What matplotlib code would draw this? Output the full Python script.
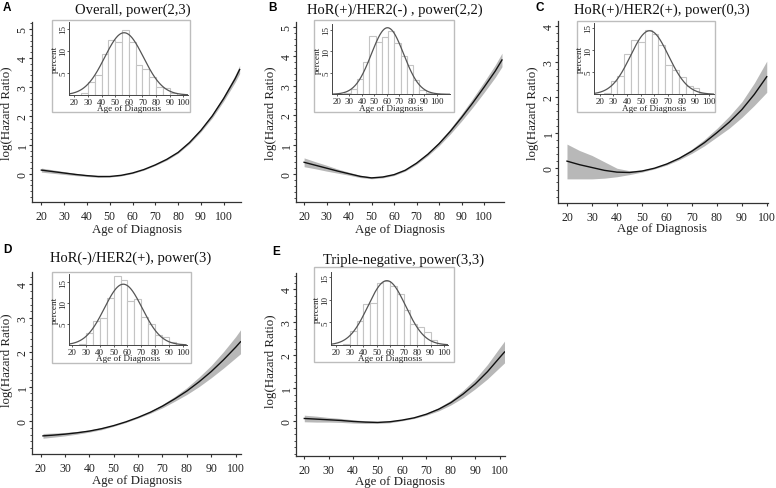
import matplotlib
matplotlib.use("Agg")
import matplotlib.pyplot as plt
import numpy as np
from matplotlib.patches import Rectangle
from matplotlib.ticker import MultipleLocator

plt.rcParams['font.family'] = ['Liberation Serif', 'DejaVu Serif']

W, H = 776, 489

# ---------------- data ----------------
titles = ["Overall, power(2,3)", "HoR(+)/HER2(-) , power(2,2)", "HoR(+)/HER2(+), power(0,3)",
          "HoR(-)/HER2(+), power(3)", "Triple-negative, power(3,3)"]
letters = ["A", "B", "C", "D", "E"]

ageA = [20, 25, 30, 35, 40, 45, 50, 55, 60, 65, 70, 75, 80, 85, 90, 95, 100, 105, 107]
fitA = [0.13, 0.08, 0.03, -0.02, -0.06, -0.09, -0.09, -0.05, 0.03, 0.15, 0.31, 0.50, 0.74, 1.08, 1.50, 2.00, 2.60, 3.28, 3.60]
hwA = [0.07, 0.06, 0.05, 0.04, 0.03, 0.03, 0.02, 0.02, 0.02, 0.02, 0.02, 0.03, 0.03, 0.04, 0.05, 0.07, 0.09, 0.12, 0.14]

ageB = [20, 25, 30, 35, 40, 45, 50, 55, 60, 65, 70, 75, 80, 85, 90, 95, 100, 105, 108]
fitB = [0.40, 0.30, 0.20, 0.10, 0.01, -0.08, -0.13, -0.10, -0.02, 0.13, 0.37, 0.67, 1.03, 1.45, 1.92, 2.42, 2.95, 3.50, 3.88]
hwB = [0.15, 0.12, 0.10, 0.07, 0.05, 0.04, 0.03, 0.03, 0.03, 0.03, 0.04, 0.05, 0.07, 0.09, 0.12, 0.15, 0.18, 0.21, 0.23]

ageC = [20, 25, 30, 35, 40, 45, 50, 55, 60, 65, 70, 75, 80, 85, 90, 95, 100]
fitC = [0.20, 0.10, 0.02, -0.06, -0.11, -0.12, -0.08, 0.00, 0.12, 0.28, 0.48, 0.72, 1.00, 1.30, 1.65, 2.08, 2.58]
upC = [0.68, 0.50, 0.36, 0.18, 0.00, -0.07, -0.05, 0.02, 0.15, 0.32, 0.54, 0.81, 1.12, 1.47, 1.87, 2.40, 3.02]
loC = [-0.30, -0.30, -0.30, -0.28, -0.24, -0.18, -0.11, -0.02, 0.09, 0.24, 0.42, 0.63, 0.88, 1.13, 1.43, 1.77, 2.14]

ageD = [21, 25, 30, 35, 40, 45, 50, 55, 60, 65, 70, 75, 80, 85, 90, 95, 100, 102]
fitD = [-0.44, -0.42, -0.39, -0.35, -0.30, -0.23, -0.14, -0.03, 0.10, 0.25, 0.43, 0.64, 0.87, 1.14, 1.44, 1.78, 2.15, 2.31]
hwD = [0.07, 0.06, 0.05, 0.04, 0.03, 0.03, 0.02, 0.02, 0.02, 0.03, 0.05, 0.07, 0.10, 0.14, 0.18, 0.24, 0.31, 0.35]

ageE = [20, 25, 30, 35, 40, 45, 50, 55, 60, 65, 70, 75, 80, 85, 90, 95, 100, 102]
fitE = [0.08, 0.06, 0.04, 0.02, -0.01, -0.03, -0.04, -0.02, 0.03, 0.10, 0.21, 0.36, 0.56, 0.82, 1.13, 1.50, 1.93, 2.10]
hwE = [0.10, 0.09, 0.07, 0.06, 0.05, 0.04, 0.03, 0.03, 0.02, 0.02, 0.03, 0.05, 0.07, 0.11, 0.15, 0.22, 0.30, 0.33]

# histograms (percent per bin)
binsA = [25, 30, 35, 40, 45, 50, 55, 60, 65, 70, 75, 80, 85, 90, 95]
pctA = [0.5, 3.0, 4.4, 9.2, 12.5, 12.0, 14.7, 11.9, 6.8, 5.9, 4.0, 1.7, 1.5, 0.4]
binsB = [26, 31, 36, 41, 46, 51, 56, 61, 66, 71, 76, 81, 86, 91, 96]
pctB = [0.3, 1.2, 3.6, 7.5, 13.6, 12.1, 13.4, 14.8, 11.9, 8.8, 6.9, 3.4, 0.9, 0.3]
binsC = [23, 28, 33, 38, 43, 48, 53, 58, 63, 68, 73, 78, 83, 88, 93, 98]
pctC = [0.3, 3.0, 4.2, 9.0, 12.2, 11.7, 14.5, 13.6, 11.1, 6.6, 5.4, 3.9, 1.8, 1.4, 0.3]
binsD = [25, 30, 35, 40, 45, 50, 55, 60, 65, 70, 75, 80, 85, 90, 95]
pctD = [0.3, 2.8, 5.8, 6.4, 11.2, 16.6, 15.5, 10.6, 11.0, 6.8, 5.0, 2.3, 1.8, 0.8]
binsE = [25, 30, 35, 40, 45, 50, 55, 60, 65, 70, 75, 80, 85, 90, 95]
pctE = [0.3, 3.0, 5.4, 9.0, 9.3, 13.8, 14.1, 13.0, 11.3, 7.8, 4.7, 4.0, 2.8, 1.1]
# normal overlay parameters (mean, sd of age)
normA = (56.5, 14.2)
normB = (60.5, 12.9)
normC = (56.5, 13.9)
normD = (57.0, 13.7)
normE = (57.5, 14.0)

# ---------------- layout (pixels) ----------------
def fbox(l, t, r, b):
    return [l / W, 1 - b / H, (r - l) / W, (b - t) / H]

panels = [
    dict(box=(32, 23, 241, 203), xlim=(15.9, 107.6), ylim=(-0.97, 5.24), yt=[0, 1, 2, 3, 4, 5],
         age=ageA, fit=fitA, hw=hwA, bins=binsA, pct=pctA, norm=normA,
         ibox=(52, 21, 190, 113), iax=(69, 23.3, 188.3, 96), ixl=(16.1, 103.6), iyl=(0, 16.4),
         title=(133, 10), letter=(3, 8), xl=(137, 230), yl=(7, 113)),
    dict(box=(296, 23, 504, 203), xlim=(16.4, 108.9), ylim=(-0.95, 5.17), yt=[0, 1, 2, 3, 4, 5],
         age=ageB, fit=fitB, hw=hwB, bins=binsB, pct=pctB, norm=normB,
         ibox=(314, 21, 454, 113), iax=(332, 24.7, 450, 95.3), ixl=(16, 110.6), iyl=(0, 16.4),
         title=(395, 10), letter=(268, 8), xl=(400, 230), yl=(271, 113)),
    dict(box=(558, 22, 768, 204), xlim=(16.4, 100.5), ylim=(-0.98, 4.15), yt=[0, 1, 2, 3, 4],
         age=ageC, fit=fitC, up=upC, lo=loC, bins=binsC, pct=pctC, norm=normC,
         ibox=(577, 22, 715, 113), iax=(594, 24, 714, 95.3), ixl=(15.9, 103.6), iyl=(0, 16.1),
         title=(662, 10), letter=(535, 8), xl=(662, 229), yl=(533, 113)),
    dict(box=(32, 273, 241, 455), xlim=(16.5, 102.2), ylim=(-0.97, 4.35), yt=[0, 1, 2, 3, 4],
         age=ageD, fit=fitD, hw=hwD, bins=binsD, pct=pctD, norm=normD,
         ibox=(52, 273, 191, 364), iax=(69, 275, 186.7, 346), ixl=(17.6, 103), iyl=(0, 17),
         title=(131, 258), letter=(3, 250), xl=(137, 481), yl=(7, 360)),
    dict(box=(296, 274, 505, 457), xlim=(16.6, 102.2), ylim=(-1.06, 4.5), yt=[0, 1, 2, 3, 4],
         age=ageE, fit=fitE, hw=hwE, bins=binsE, pct=pctE, norm=normE,
         ibox=(314, 268, 454, 363), iax=(331, 273.3, 448.3, 346), ixl=(16, 103.2), iyl=(0, 16.1),
         title=(404, 260), letter=(272, 252), xl=(400, 482), yl=(271, 361)),
]

fig = plt.figure(figsize=(W / 100, H / 100), dpi=100)
fig.patch.set_facecolor('white')

band_col = '#b8b8b8'
axis_col = '#333333'

for i, p in enumerate(panels):
    ax = fig.add_axes(fbox(*p['box']))
    age = np.array(p['age'])
    fit = np.array(p['fit'])
    if 'hw' in p:
        hw = np.array(p['hw'])
        lo, up = fit - hw, fit + hw
    else:
        lo, up = np.array(p['lo']), np.array(p['up'])
    ax.fill_between(age, lo, up, color=band_col, lw=0)
    ax.plot(age, fit, color='#111111', lw=1.0)
    ax.set_xlim(*p['xlim'])
    ax.set_ylim(*p['ylim'])
    for s in ['top', 'right']:
        ax.spines[s].set_visible(False)
    for s in ['left', 'bottom']:
        ax.spines[s].set_color(axis_col)
        ax.spines[s].set_linewidth(0.9)
    ax.set_xticks([20, 30, 40, 50, 60, 70, 80, 90, 100])
    ax.set_yticks(p['yt'])
    ax.yaxis.set_minor_locator(MultipleLocator(0.2))
    ax.tick_params(axis='both', which='major', length=2.5, width=0.8, color=axis_col,
                   labelsize=8.5, labelcolor='#222222')
    ax.tick_params(axis='x', pad=3.5)
    ax.tick_params(axis='y', which='minor', length=1.5, width=0.6, color=axis_col)
    ax.tick_params(axis='y', which='major', pad=4.2)
    for lab in ax.get_yticklabels():
        lab.set_rotation(90)
        lab.set_va('center')
        lab.set_ha('center')

    # texts
    fig.text(p['title'][0] / W, 1 - p['title'][1] / H, titles[i], ha='center', va='center',
             fontsize=10.5, color='#111111')
    fig.text(p['letter'][0] / W, 1 - p['letter'][1] / H, letters[i], ha='left', va='center',
             fontsize=8.5, fontweight='bold', family=['Liberation Sans', 'DejaVu Sans'])
    fig.text(p['xl'][0] / W, 1 - p['xl'][1] / H, 'Age of Diagnosis', ha='center', va='center',
             fontsize=9.3, color='#222222')
    fig.text(p['yl'][0] / W, 1 - p['yl'][1] / H, 'log(Hazard Ratio)', ha='center', va='center',
             rotation=90, fontsize=9.3, color='#222222')

    # inset frame
    l, t, r, b = p['ibox']
    fig.patches.append(Rectangle((l / W, 1 - b / H), (r - l) / W, (b - t) / H,
                                 transform=fig.transFigure, facecolor='white',
                                 edgecolor='#bdbdbd', lw=1.0, zorder=2))
    iax = fig.add_axes(fbox(*p['iax']), zorder=3)
    iax.patch.set_alpha(0)
    edges = p['bins']
    iax.bar(edges[:-1], p['pct'], width=np.diff(edges), align='edge', facecolor='white',
            edgecolor='#c4c4c4', lw=0.8)
    m, sd = p['norm']
    xs = np.linspace(p['ixl'][0] + 0.5, p['ixl'][1] - 0.5, 300)
    binw = edges[1] - edges[0]
    ys = 100 * binw * np.exp(-0.5 * ((xs - m) / sd) ** 2) / (sd * np.sqrt(2 * np.pi))
    iax.plot(xs, ys, color='#555555', lw=0.9)
    iax.set_xlim(*p['ixl'])
    iax.set_ylim(*p['iyl'])
    for s in ['top', 'right']:
        iax.spines[s].set_visible(False)
    for s in ['left', 'bottom']:
        iax.spines[s].set_color('#444444')
        iax.spines[s].set_linewidth(0.7)
    iax.set_xticks([20, 30, 40, 50, 60, 70, 80, 90, 100])
    iax.set_yticks([5, 10, 15])
    iax.tick_params(axis='both', length=1.5, width=0.6, color='#444444', labelsize=6.5, pad=0.5,
                    labelcolor='#222222')
    iax.tick_params(axis='y', pad=2.6)
    for lab in iax.get_yticklabels():
        lab.set_rotation(90)
        lab.set_va('center')
        lab.set_ha('center')
    iax.set_xlabel('Age of Diagnosis', fontsize=6.6, labelpad=-1, color='#222222')
    iax.set_ylabel('percent', fontsize=6.6, labelpad=0, color='#222222')

fig.savefig('out.png', dpi=100, facecolor='white')
